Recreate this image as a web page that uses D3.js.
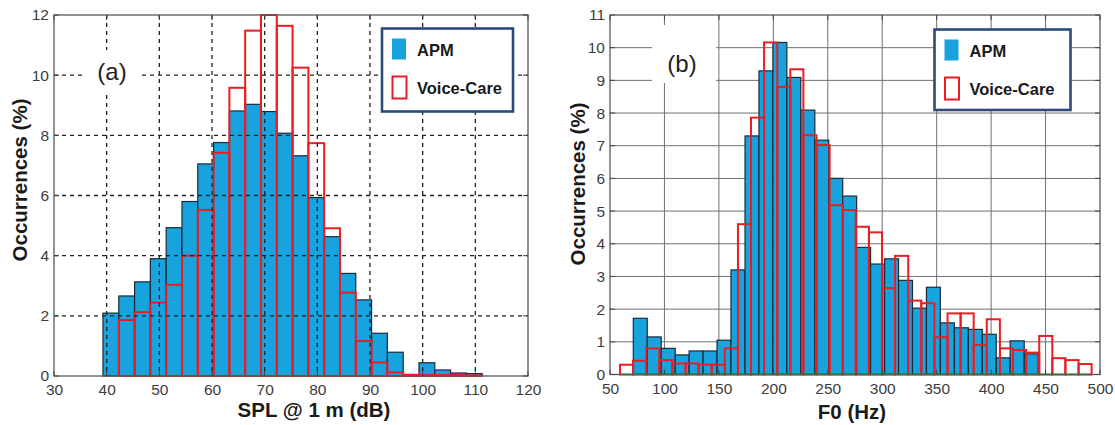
<!DOCTYPE html>
<html><head><meta charset="utf-8">
<script src="https://cdn.jsdelivr.net/npm/d3@7"></script>
<style>
body{margin:0;background:#fff}
svg{display:block}
text{font-family:Arial,"Liberation Sans",sans-serif}
</style>
</head><body>
<svg id="c" width="1115" height="425"></svg>
<script>
// ---------- data ----------
const seriesNames = ["APM", "Voice-Care"];

// Panel (a): SPL @ 1 m (dB)
const splTicksX = [30, 40, 50, 60, 70, 80, 90, 100, 110, 120];
const splTicksY = [0, 2, 4, 6, 8, 10, 12];
const splEdges = [39.3, 42.3, 45.3, 48.3, 51.3, 54.3, 57.3, 60.3, 63.3, 66.3, 69.3, 72.3, 75.3,
                  78.3, 81.3, 84.3, 87.3, 90.3, 93.3, 96.3, 99.3, 102.3, 105.3, 108.3, 111.3];
const splAPM = [2.09, 2.66, 3.13, 3.9, 4.93, 5.8, 7.05, 7.76, 8.81, 9.03, 8.79, 8.07, 7.32,
                5.93, 4.63, 3.41, 2.53, 1.42, 0.79, 0, 0.44, 0.2, 0.1, 0.08];
const splVoiceCare = [0, 1.86, 2.12, 2.44, 3.03, 4.0, 5.52, 7.42, 9.58, 11.48, 12.0, 11.64, 10.25,
                      7.74, 4.91, 2.77, 1.16, 0.45, 0.12, 0.04, 0.03, 0.03, 0.03, 0.02];

// Panel (b): F0 (Hz)
const f0TicksX = [50, 100, 150, 200, 250, 300, 350, 400, 450, 500];
const f0TicksY = [0, 1, 2, 3, 4, 5, 6, 7, 8, 9, 10, 11];
const f0EdgesAPM = [71.4, 84.2, 97.0, 109.9, 122.7, 135.5, 148.3, 161.1, 174.0, 186.8, 199.6,
                    212.4, 225.2, 238.1, 250.9, 263.7, 276.5, 289.3, 302.2, 315.0, 327.8, 340.6,
                    353.4, 366.3, 379.1, 391.9, 404.7, 417.5, 430.4, 443.2];
const f0APM = [1.72, 1.15, 0.8, 0.6, 0.72, 0.72, 1.05, 3.2, 7.3, 9.29, 10.16, 9.09, 8.09, 7.17,
               6.0, 5.46, 3.89, 3.38, 3.54, 2.88, 2.03, 2.67, 1.58, 1.43, 1.38, 1.23, 0.51, 1.03, 0.63];
const f0EdgesVoiceCare = [59.2, 71.2, 83.3, 95.3, 107.3, 119.4, 131.4, 143.4, 155.4, 167.5, 179.5,
                          191.5, 203.6, 215.6, 227.6, 239.7, 251.7, 263.7, 275.7, 287.8, 299.8,
                          311.8, 323.9, 335.9, 347.9, 360.0, 372.0, 384.0, 396.0, 408.1, 420.1,
                          432.1, 444.2, 456.2, 468.2, 480.3, 492.3];
const f0VoiceCare = [0.3, 0.42, 0.8, 0.44, 0.34, 0.34, 0.3, 0.3, 0.8, 4.6, 7.86, 10.16, 8.8, 9.34,
                     7.32, 7.02, 5.18, 5.03, 4.52, 4.35, 2.64, 3.63, 2.26, 2.18, 1.14, 1.87, 1.87,
                     0.9, 1.69, 0.8, 0.75, 0.67, 1.18, 0.5, 0.44, 0.32];

// ---------- drawing ----------
const svg = d3.select("#c");
const BLUE = "#17a3dd", RED = "#ec1c24", NAVY = "#2d4a78";

function toBins(edges, vals) {
  return vals.map((v, i) => ({x0: edges[i], x1: edges[i + 1], v}));
}

function panel(o) {
  const g = svg.append("g");
  const x = d3.scaleLinear().domain(o.xDomain).range([o.left, o.right]);
  const y = d3.scaleLinear().domain(o.yDomain).range([o.bottom, o.top]);

  const grid = () => {
    const gg = g.append("g").attr("stroke", o.gridColor).attr("stroke-width", o.gridWidth)
      .attr("stroke-dasharray", o.gridDash);
    gg.selectAll(".vx").data(o.ticksX.slice(1, -1)).join("line")
      .attr("x1", d => x(d)).attr("x2", d => x(d)).attr("y1", o.top).attr("y2", o.bottom);
    gg.selectAll(".hy").data(o.ticksY.slice(1, -1)).join("line")
      .attr("y1", d => y(d)).attr("y2", d => y(d)).attr("x1", o.left).attr("x2", o.right);
  };

  if (!o.gridOnTop) grid();

  g.append("g").selectAll("rect").data(toBins(o.edgesA, o.valsA).filter(d => d.v > 0)).join("rect")
    .attr("x", d => x(d.x0)).attr("width", d => x(d.x1) - x(d.x0))
    .attr("y", d => y(d.v)).attr("height", d => y(0) - y(d.v))
    .attr("fill", BLUE).attr("stroke", "#1d2a36").attr("stroke-width", 1.2);

  g.append("g").selectAll("rect").data(toBins(o.edgesB, o.valsB).filter(d => d.v > 0)).join("rect")
    .attr("x", d => x(d.x0)).attr("width", d => x(d.x1) - x(d.x0))
    .attr("y", d => y(d.v)).attr("height", d => y(0) - y(d.v))
    .attr("fill", "none").attr("stroke", RED).attr("stroke-width", 2);

  if (o.gridOnTop) grid();

  // frame
  g.append("rect").attr("x", o.left).attr("y", o.top)
    .attr("width", o.right - o.left).attr("height", o.bottom - o.top)
    .attr("fill", "none").attr("stroke", "#5a5a5a").attr("stroke-width", 1.3);

  // inward ticks
  const tk = g.append("g").attr("stroke", "#444").attr("stroke-width", 1);
  o.ticksY.forEach(d => {
    tk.append("line").attr("x1", o.left).attr("x2", o.left + 5).attr("y1", y(d)).attr("y2", y(d));
    tk.append("line").attr("x1", o.right).attr("x2", o.right - 5).attr("y1", y(d)).attr("y2", y(d));
  });
  o.ticksX.forEach(d => {
    tk.append("line").attr("y1", o.bottom).attr("y2", o.bottom - 5).attr("x1", x(d)).attr("x2", x(d));
    tk.append("line").attr("y1", o.top).attr("y2", o.top + 5).attr("x1", x(d)).attr("x2", x(d));
  });

  // tick labels via axes (no lines)
  const ax = g.append("g").attr("transform", `translate(0,${o.bottom})`)
    .call(d3.axisBottom(x).tickValues(o.ticksX).tickSize(0).tickPadding(8).tickFormat(d3.format("d")));
  ax.select(".domain").remove();
  ax.selectAll("text").attr("font-size", 15.5).attr("fill", "#3c3c3c")
    .attr("font-family", "Arial, 'Liberation Sans', sans-serif");
  const ay = g.append("g").attr("transform", `translate(${o.left},0)`)
    .call(d3.axisLeft(y).tickValues(o.ticksY).tickSize(0).tickPadding(5).tickFormat(d3.format("d")));
  ay.select(".domain").remove();
  ay.selectAll("text").attr("font-size", 15.5).attr("fill", "#3c3c3c")
    .attr("font-family", "Arial, 'Liberation Sans', sans-serif");

  // axis titles
  g.append("text").attr("x", o.xLabelX).attr("y", o.xLabelY).attr("text-anchor", "middle")
    .attr("font-size", 20.5).attr("font-weight", "bold").attr("fill", "#1a1a1a").text(o.xLabel);
  g.append("text").attr("transform", `translate(${o.yLabelX},${o.yLabelY}) rotate(-90)`)
    .attr("text-anchor", "middle").attr("font-size", 20.5).attr("font-weight", "bold")
    .attr("fill", "#1a1a1a").text("Occurrences (%)");

  // panel tag with white background
  g.append("rect").attr("x", o.tag.bx).attr("y", o.tag.by).attr("width", o.tag.bw).attr("height", o.tag.bh)
    .attr("fill", "#fff");
  g.append("text").attr("x", o.tag.x).attr("y", o.tag.y).attr("text-anchor", "middle")
    .attr("font-size", 24).attr("fill", "#222").text(o.tag.text);

  // legend
  const L = o.legend;
  g.append("rect").attr("x", L.x).attr("y", L.y).attr("width", L.w).attr("height", L.h)
    .attr("fill", "#fff").attr("stroke", NAVY).attr("stroke-width", 2.6);
  g.append("rect").attr("x", L.x + 10).attr("y", L.y + 10).attr("width", 14).attr("height", 21)
    .attr("fill", BLUE);
  g.append("rect").attr("x", L.x + 10.5).attr("y", L.y + 48).attr("width", 14).attr("height", 22)
    .attr("fill", "none").attr("stroke", RED).attr("stroke-width", 2);
  g.append("text").attr("x", L.x + 35).attr("y", L.y + 27).attr("font-size", 16.5)
    .attr("font-weight", "bold").attr("fill", "#1a1a1a").text(seriesNames[0]);
  g.append("text").attr("x", L.x + 35).attr("y", L.y + 65).attr("font-size", 16.5)
    .attr("font-weight", "bold").attr("fill", "#1a1a1a").text(seriesNames[1]);
}

panel({
  left: 54, right: 528, top: 15, bottom: 376,
  xDomain: [30, 120], yDomain: [0, 12], ticksX: splTicksX, ticksY: splTicksY,
  edgesA: splEdges, valsA: splAPM, edgesB: splEdges, valsB: splVoiceCare,
  gridOnTop: true, gridColor: "#222", gridWidth: 1.3, gridDash: "4,4",
  xLabel: "SPL @ 1 m (dB)", xLabelX: 314, xLabelY: 417, yLabelX: 27, yLabelY: 180,
  tag: {text: "(a)", x: 112, y: 80, bx: 86, by: 50, bw: 54, bh: 42},
  legend: {x: 382, y: 28.5, w: 131, h: 83}
});

panel({
  left: 610, right: 1100, top: 15, bottom: 374.5,
  xDomain: [50, 500], yDomain: [0, 11], ticksX: f0TicksX, ticksY: f0TicksY,
  edgesA: f0EdgesAPM, valsA: f0APM, edgesB: f0EdgesVoiceCare, valsB: f0VoiceCare,
  gridOnTop: false, gridColor: "#707070", gridWidth: 1, gridDash: null,
  xLabel: "F0 (Hz)", xLabelX: 852, xLabelY: 419, yLabelX: 585, yLabelY: 184,
  tag: {text: "(b)", x: 682, y: 72, bx: 652, by: 25, bw: 64, bh: 58},
  legend: {x: 934.5, y: 29.5, w: 136, h: 80.5}
});
</script>
</body></html>
